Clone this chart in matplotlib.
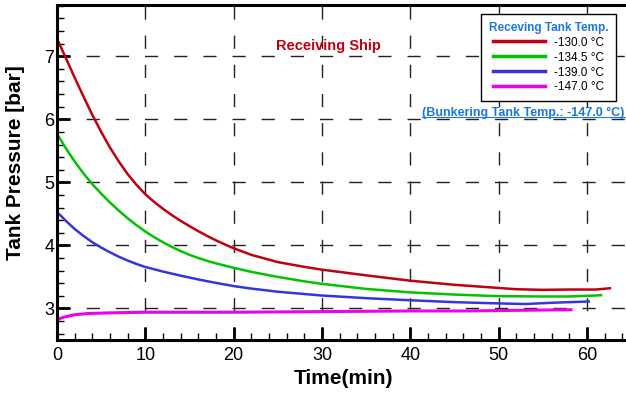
import numpy as np
import matplotlib
matplotlib.use("Agg")
import matplotlib.pyplot as plt
from matplotlib.ticker import MultipleLocator

plt.rcParams['font.family'] = ['Liberation Sans', 'DejaVu Sans']

# data (time in min, pressure in bar)
t_130 = [0, 1, 2, 3, 4, 5, 6, 7, 8, 9, 10, 11, 12, 13, 14, 15, 16, 17, 18, 19,
         20, 22, 25, 28, 30, 35, 40, 45, 50, 52, 55, 58, 61, 62.6]
p_130 = [7.28, 6.97, 6.66, 6.36, 6.07, 5.80, 5.55, 5.33, 5.13, 4.96, 4.81, 4.69,
         4.58, 4.48, 4.39, 4.305, 4.225, 4.15, 4.08, 4.015, 3.955, 3.85, 3.735,
         3.66, 3.615, 3.525, 3.44, 3.375, 3.325, 3.305, 3.295, 3.30, 3.30, 3.32]

t_1345 = [0, 1, 2, 3, 4, 5, 6, 7, 8, 9, 10, 11, 12, 13, 14, 15, 16, 17, 18, 19,
          20, 22, 25, 28, 30, 35, 40, 45, 50, 55, 58, 60, 61.6]
p_1345 = [5.77, 5.54, 5.33, 5.14, 4.97, 4.82, 4.68, 4.55, 4.43, 4.32, 4.22, 4.13,
          4.05, 3.975, 3.91, 3.85, 3.80, 3.755, 3.715, 3.68, 3.645, 3.58, 3.50,
          3.43, 3.39, 3.31, 3.255, 3.22, 3.195, 3.19, 3.19, 3.20, 3.21]

t_139 = [0, 1, 2, 3, 4, 5, 6, 7, 8, 9, 10, 12, 14, 16, 18, 20, 22, 25, 30, 35,
         40, 45, 50, 53, 56, 58, 60.2]
p_139 = [4.53, 4.39, 4.26, 4.15, 4.05, 3.965, 3.89, 3.82, 3.76, 3.705, 3.657,
         3.585, 3.52, 3.46, 3.405, 3.355, 3.315, 3.265, 3.205, 3.163, 3.13, 3.10,
         3.08, 3.07, 3.09, 3.10, 3.11]

t_147 = [0, 0.5, 1, 2, 3.5, 6, 10, 20, 30, 40, 46, 52, 58.2]
p_147 = [2.82, 2.85, 2.87, 2.90, 2.92, 2.93, 2.94, 2.94, 2.95, 2.96, 2.96, 2.97, 2.98]

labels = ["-130.0 \u00b0C", "-134.5 \u00b0C", "-139.0 \u00b0C", "-147.0 \u00b0C"]
colors = ["#c00010", "#00c400", "#3535e0", "#ee00ee"]
widths = [1.8, 1.8, 1.8, 2.2]

fig = plt.figure(figsize=(6.26, 3.93), dpi=100)
ax = fig.add_axes([0.0911, 0.1349, 0.91, 0.852])

series = [(t_130, p_130), (t_1345, p_1345), (t_139, p_139), (t_147, p_147)]
for (t, p), lab, c, w in zip(series, labels, colors, widths):
    ax.plot(t, p, color=c, lw=w, label=lab, solid_joinstyle='round')

ax.set_xlim(0, 64.5)
ax.set_ylim(2.5, 7.81)
ax.xaxis.set_major_locator(MultipleLocator(10))
ax.xaxis.set_minor_locator(MultipleLocator(2))
ax.yaxis.set_major_locator(MultipleLocator(1))
ax.yaxis.set_minor_locator(MultipleLocator(0.2))

ax.grid(True, which='major', color='#222222', lw=1.0, linestyle=(0, (9.5, 11.5)))
ax.set_axisbelow(True)

ax.tick_params(which='major', direction='in', length=9.5, width=2, labelsize=13,
               top=False, right=False)
ax.tick_params(axis='y', which='major', pad=2)
ax.tick_params(axis='x', which='major', pad=5)
ax.tick_params(which='minor', direction='in', length=5, width=1, top=False, right=False)

for s in ['left', 'bottom', 'top']:
    ax.spines[s].set_linewidth(2.2)
ax.spines['right'].set_visible(False)

fig.text(16 / 626, 1 - 163 / 393, "Tank Pressure [bar]", rotation=90,
         ha='center', va='center', fontsize=15, fontweight='bold')
fig.text(343 / 626, 1 - 378 / 393, "Time(min)", ha='center', va='center',
         fontsize=15, fontweight='bold')

ax.text(30.7, 7.16, "Receiving Ship", color="#c00010", fontsize=10.5,
        fontweight='bold', ha='center', va='center')

leg = ax.legend(loc='upper right', bbox_to_anchor=(616 / 626, 1 - 14 / 393),
                bbox_transform=fig.transFigure, borderaxespad=0,
                fontsize=8.5, title="Receving Tank Temp.", fancybox=False,
                framealpha=1, edgecolor='black', handlelength=4.4,
                labelspacing=0.25, borderpad=0.65, handletextpad=0.8)
leg.get_frame().set_linewidth(1.0)
leg.get_title().set_color("#1e78dc")
leg.get_title().set_fontweight('bold')
leg.get_title().set_fontsize(8.5)
for line in leg.get_lines():
    line.set_linewidth(2.5)

bunk = fig.text(0.998, 1 - 113 / 393, "(Bunkering Tank Temp.: -147.0 \u00b0C)",
                ha='right', va='center', fontsize=9, fontweight='bold',
                color="#1e78dc")
fig.canvas.draw()
bb = bunk.get_window_extent().transformed(fig.transFigure.inverted())
fig.add_artist(plt.Line2D([bb.x0, bb.x1], [bb.y0 + 0.004, bb.y0 + 0.004],
                          transform=fig.transFigure, color="#1e78dc", lw=0.8))

fig.savefig("out.png", dpi=100)
